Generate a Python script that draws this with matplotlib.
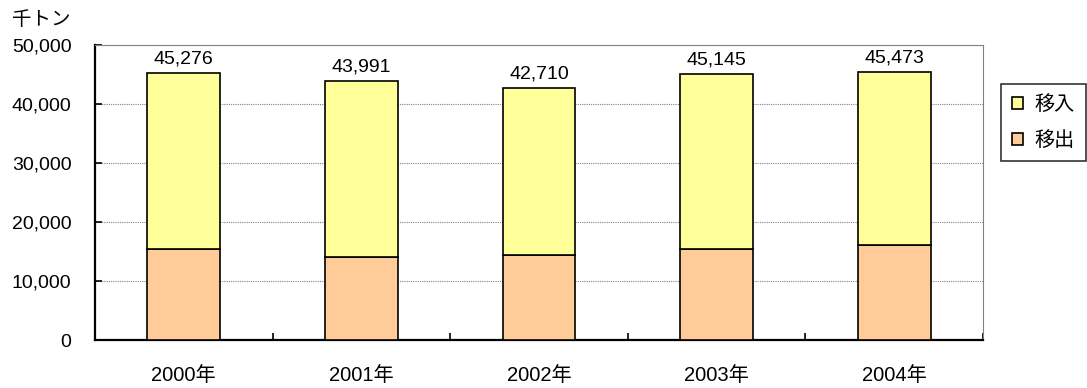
import matplotlib
matplotlib.use("Agg")
import matplotlib.pyplot as plt
import numpy as np

plt.rcParams['font.family'] = ['Liberation Sans', 'Noto Sans CJK JP', 'DejaVu Sans']

years = ["2000年", "2001年", "2002年", "2003年", "2004年"]
totals = [45276, 43991, 42710, 45145, 45473]
outbound = [15400, 14000, 14400, 15400, 16100]  # 移出
inbound = [t - o for t, o in zip(totals, outbound)]  # 移入

fig = plt.figure(figsize=(10.87, 3.88), dpi=100)
ax = fig.add_axes([0.0874, 0.1237, 0.817, 0.760])

x = np.arange(len(years))
w = 0.41
ax.bar(x, outbound, w, color="#FFCC99", edgecolor="black", linewidth=1.2, label="移出", zorder=3)
ax.bar(x, inbound, w, bottom=outbound, color="#FFFF99", edgecolor="black", linewidth=1.2,
       label="移入", zorder=3)

for xi, t in zip(x, totals):
    ax.annotate(f"{t:,}", (xi, t), xytext=(0, 4), textcoords="offset points",
                ha="center", va="bottom", fontsize=14)

ax.set_xlim(-0.5, len(years) - 0.5)
ax.set_ylim(0, 50000)
ax.set_yticks(range(0, 50001, 10000))
ax.set_yticklabels([f"{v:,}" for v in range(0, 50001, 10000)], fontsize=14)
ax.yaxis.grid(True, linestyle=(0, (1, 1)), color="gray", linewidth=0.8, zorder=0)

ax.set_xticks(x)
ax.set_xticklabels(years, fontsize=14.5)
ax.set_xticks(np.arange(-0.5, len(years)), minor=True)
ax.tick_params(axis="x", which="major", length=0, pad=19)
ax.tick_params(axis="x", which="minor", length=5, direction="in", width=1.2)
ax.tick_params(axis="y", length=5, direction="in", width=1.2, pad=17)

ax.spines["left"].set_linewidth(1.6)
ax.spines["bottom"].set_linewidth(1.6)
ax.spines["top"].set_color("gray")
ax.spines["right"].set_color("gray")
ax.spines["top"].set_linewidth(0.8)
ax.spines["right"].set_linewidth(0.8)

fig.text(0.011, 0.948, "千トン", fontsize=14, ha="left", va="center")

handles, labels = ax.get_legend_handles_labels()
leg = fig.legend(handles[::-1], labels[::-1], loc="upper left", bbox_to_anchor=(0.921, 0.784),
                 fontsize=14.5, frameon=True, fancybox=False, edgecolor="black",
                 handlelength=0.55, handleheight=0.55, handletextpad=0.55, borderpad=0.55,
                 borderaxespad=0, labelspacing=0.85)
leg.get_frame().set_linewidth(1.2)

fig.savefig("out.png", dpi=100)
